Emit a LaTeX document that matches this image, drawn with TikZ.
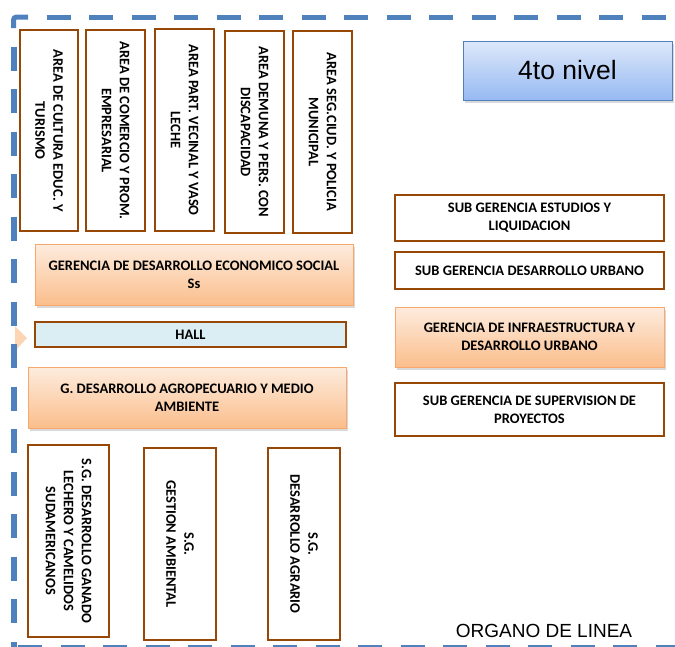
\documentclass[tikz,border=0pt]{standalone}
\usepackage{fontspec}
\setmainfont{Carlito}
\newfontfamily\arialfont{Liberation Sans}
\usepackage{tikz}
\usetikzlibrary{shadows}
\definecolor{frameblue}{RGB}{79,129,189}
\definecolor{brownline}{RGB}{152,72,6}
\definecolor{orangeline}{RGB}{248,168,108}
\definecolor{orangetop}{RGB}{253,236,222}
\definecolor{orangebot}{RGB}{251,190,140}
\definecolor{bluetop}{RGB}{222,232,250}
\definecolor{bluebot}{RGB}{150,186,242}
\definecolor{hallfill}{RGB}{218,238,243}
\definecolor{peach}{RGB}{252,213,181}

\begin{document}
\begin{tikzpicture}[x=1pt, y=-1pt,
    areabox/.style={draw=brownline, line width=2.4pt, fill=white, inner sep=0pt, align=center,
        font=\bfseries\fontsize{14.5}{18}\selectfont},
    vertbox/.style={areabox, rotate=-90},
    gerbox/.style={draw=orangeline, line width=0.8pt, top color=orangetop, bottom color=orangebot,
        drop shadow={shadow xshift=1.5pt, shadow yshift=-2.5pt, opacity=0.3}, inner sep=0pt,
        align=center, font=\bfseries\fontsize{14.5}{18}\selectfont},
    frameline/.style={draw=frameblue, line width=5pt},
    framedash/.style={frameline, dash pattern=on 24pt off 18.5pt}]
    \clip (0,0) rectangle (675,646);
    % Arrow tip behind the frame
    \fill[peach] (15,326) -- (27,338) -- (15,351) -- cycle;
    % Frame
    \draw[frameline, rounded corners=3pt] (13.5,28) -- (13.5,17) -- (28,17);
    \draw[framedash, line width=6pt] (13.5,46.7) -- (13.5,660);
    \draw[framedash] (46.7,17) -- (690,17);
    \draw[framedash] (18,647) -- (690,647);
    % Areas
    \node[vertbox, minimum width=201pt, minimum height=58pt] (cultura) at (49,130.5) {AREA DE CULTURA EDUC. Y\\TURISMO};
    \node[vertbox, minimum width=201pt, minimum height=59pt] (comercio) at (115.5,130.5) {AREA DE COMERCIO Y PROM.\\EMPRESARIAL};
    \node[vertbox, minimum width=202pt, minimum height=59pt] (vaso) at (184.5,130) {AREA PART. VECINAL Y VASO\\LECHE};
    \node[vertbox, minimum width=202pt, minimum height=59pt] (demuna) at (254.5,132) {AREA DEMUNA Y PERS. CON\\DISCAPACIDAD};
    \node[vertbox, minimum width=202pt, minimum height=59pt] (policia) at (322.5,132) {AREA SEG.CIUD. Y POLICIA\\MUNICIPAL};
    % Gerencias
    \node[gerbox, minimum width=318pt, minimum height=61pt] (social) at (194,274.5) {GERENCIA DE DESARROLLO ECONOMICO SOCIAL\\Ss};
    \node[areabox, fill=hallfill, minimum width=311pt, minimum height=25pt] (hall) at (190.5,334.5) {HALL};
    \node[gerbox, minimum width=318pt, minimum height=61pt] (agro) at (187,397.5) {G. DESARROLLO AGROPECUARIO Y MEDIO\\AMBIENTE};
    % Sub gerencias
    \node[vertbox, minimum width=192pt, minimum height=81pt] (ganado) at (68.5,541) {S.G. DESARROLLO GANADO\\LECHERO Y CAMELIDOS\\SUDAMERICANOS};
    \node[vertbox, minimum width=192pt, minimum height=72pt] (ambiental) at (180,544) {S.G.\\GESTION AMBIENTAL};
    \node[vertbox, minimum width=192pt, minimum height=72pt] (agrario) at (304,544) {S.G.\\DESARROLLO AGRARIO};
    % Right column
    \node[draw=frameblue, line width=1pt, top color=bluetop, bottom color=bluebot, inner sep=0pt,
        drop shadow={shadow xshift=1.5pt, shadow yshift=-3pt, opacity=0.3},
        minimum width=209pt, minimum height=59pt, font=\arialfont\fontsize{26.5}{30}\selectfont] (nivel) at (567.5,70.5) {4to nivel};
    \node[areabox, minimum width=269pt, minimum height=46pt] (estudios) at (529.5,218) {SUB GERENCIA ESTUDIOS Y\\LIQUIDACION};
    \node[areabox, minimum width=269pt, minimum height=37pt] (urbano) at (529.5,270.5) {SUB GERENCIA DESARROLLO URBANO};
    \node[gerbox, minimum width=269pt, minimum height=60pt] (infra) at (529.5,337) {GERENCIA DE INFRAESTRUCTURA Y\\DESARROLLO URBANO};
    \node[areabox, minimum width=269pt, minimum height=53pt] (proyectos) at (529.5,409.5) {SUB GERENCIA DE SUPERVISION DE\\PROYECTOS};
    \node[font=\arialfont\fontsize{19}{22}\selectfont, inner sep=0pt] (organo) at (544,631) {ORGANO DE LINEA};
\end{tikzpicture}
\end{document}
